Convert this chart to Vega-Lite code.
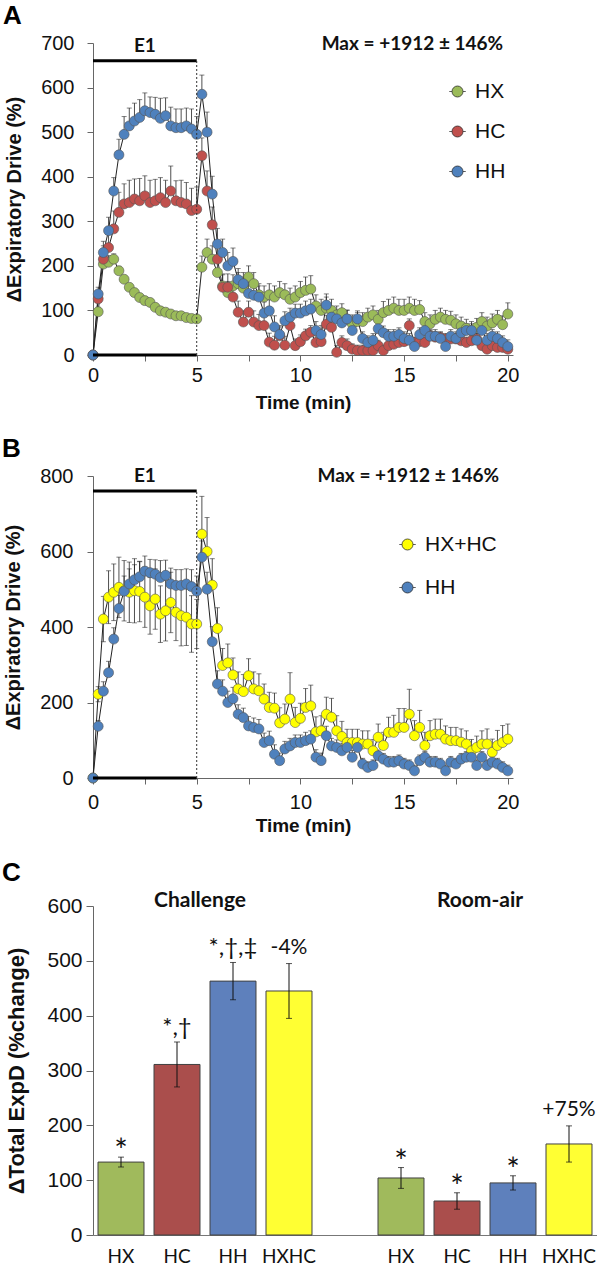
{
"$schema": "https://vega.github.io/schema/vega-lite/v6.json",
"background": "white",
"padding": {"left": 2, "top": 3, "right": 0, "bottom": 0},
"config": {
  "view": {"stroke": null},
  "axis": {"domainColor": "#666", "tickColor": "#666", "labelFont": "Liberation Sans", "labelFontSize": 20, "labelColor": "#111", "titleFont": "Liberation Sans", "titleFontWeight": "bold", "titleFontSize": 19, "titleColor": "#111", "grid": false},
  "legend": {"labelFont": "Liberation Sans", "labelFontSize": 21, "labelColor": "#111"}
},
"datasets": {
"ts": [
{"s":"HX","t":0,"v":0,"e":0},{"s":"HX","t":0.25,"v":97,"e":10},{"s":"HX","t":0.5,"v":204,"e":15},{"s":"HX","t":0.75,"v":208,"e":15},{"s":"HX","t":1,"v":215,"e":12},{"s":"HX","t":1.25,"v":189,"e":10},{"s":"HX","t":1.5,"v":170,"e":8},{"s":"HX","t":1.75,"v":152,"e":8},{"s":"HX","t":2,"v":140,"e":8},{"s":"HX","t":2.25,"v":129,"e":8},{"s":"HX","t":2.5,"v":122,"e":8},{"s":"HX","t":2.75,"v":118,"e":8},{"s":"HX","t":3,"v":107,"e":6},{"s":"HX","t":3.25,"v":99,"e":6},{"s":"HX","t":3.5,"v":96,"e":6},{"s":"HX","t":3.75,"v":92,"e":6},{"s":"HX","t":4,"v":88,"e":6},{"s":"HX","t":4.25,"v":88,"e":6},{"s":"HX","t":4.5,"v":84,"e":6},{"s":"HX","t":4.75,"v":82,"e":6},{"s":"HX","t":5,"v":81,"e":6},
{"s":"HX","t":5.25,"v":197,"e":25},{"s":"HX","t":5.5,"v":230,"e":30},{"s":"HX","t":5.75,"v":215,"e":30},{"s":"HX","t":6,"v":185,"e":30},{"s":"HX","t":6.25,"v":155,"e":25},{"s":"HX","t":6.5,"v":140,"e":25},{"s":"HX","t":6.75,"v":155,"e":25},{"s":"HX","t":7,"v":160,"e":25},{"s":"HX","t":7.25,"v":150,"e":25},{"s":"HX","t":7.5,"v":175,"e":25},{"s":"HX","t":7.75,"v":160,"e":25},{"s":"HX","t":8,"v":135,"e":25},{"s":"HX","t":8.25,"v":130,"e":25},{"s":"HX","t":8.5,"v":135,"e":25},{"s":"HX","t":8.75,"v":130,"e":25},{"s":"HX","t":9,"v":140,"e":25},{"s":"HX","t":9.25,"v":135,"e":25},{"s":"HX","t":9.5,"v":125,"e":25},{"s":"HX","t":9.75,"v":130,"e":25},{"s":"HX","t":10,"v":140,"e":25},
{"s":"HX","t":10.25,"v":145,"e":30},{"s":"HX","t":10.5,"v":148,"e":30},{"s":"HX","t":10.75,"v":110,"e":25},{"s":"HX","t":11,"v":100,"e":25},{"s":"HX","t":11.25,"v":105,"e":25},{"s":"HX","t":11.5,"v":100,"e":25},{"s":"HX","t":11.75,"v":90,"e":20},{"s":"HX","t":12,"v":95,"e":20},{"s":"HX","t":12.25,"v":80,"e":20},{"s":"HX","t":12.5,"v":70,"e":20},{"s":"HX","t":12.75,"v":75,"e":20},{"s":"HX","t":13,"v":75,"e":20},{"s":"HX","t":13.25,"v":85,"e":20},{"s":"HX","t":13.5,"v":90,"e":20},{"s":"HX","t":13.75,"v":80,"e":20},{"s":"HX","t":14,"v":95,"e":25},{"s":"HX","t":14.25,"v":100,"e":25},{"s":"HX","t":14.5,"v":105,"e":25},{"s":"HX","t":14.75,"v":100,"e":25},{"s":"HX","t":15,"v":100,"e":25},
{"s":"HX","t":15.25,"v":105,"e":25},{"s":"HX","t":15.5,"v":100,"e":25},{"s":"HX","t":15.75,"v":102,"e":20},{"s":"HX","t":16,"v":75,"e":20},{"s":"HX","t":16.25,"v":70,"e":20},{"s":"HX","t":16.5,"v":80,"e":20},{"s":"HX","t":16.75,"v":85,"e":20},{"s":"HX","t":17,"v":80,"e":20},{"s":"HX","t":17.25,"v":78,"e":20},{"s":"HX","t":17.5,"v":70,"e":20},{"s":"HX","t":17.75,"v":65,"e":20},{"s":"HX","t":18,"v":60,"e":20},{"s":"HX","t":18.25,"v":55,"e":20},{"s":"HX","t":18.5,"v":62,"e":20},{"s":"HX","t":18.75,"v":75,"e":20},{"s":"HX","t":19,"v":65,"e":20},{"s":"HX","t":19.25,"v":72,"e":20},{"s":"HX","t":19.5,"v":80,"e":20},{"s":"HX","t":19.75,"v":68,"e":20},{"s":"HX","t":20,"v":92,"e":25},
{"s":"HC","t":0,"v":0,"e":0},{"s":"HC","t":0.25,"v":126,"e":15},{"s":"HC","t":0.5,"v":215,"e":30},{"s":"HC","t":0.75,"v":241,"e":35},{"s":"HC","t":1,"v":283,"e":40},{"s":"HC","t":1.25,"v":320,"e":45},{"s":"HC","t":1.5,"v":339,"e":45},{"s":"HC","t":1.75,"v":342,"e":50},{"s":"HC","t":2,"v":350,"e":45},{"s":"HC","t":2.25,"v":346,"e":50},{"s":"HC","t":2.5,"v":357,"e":45},{"s":"HC","t":2.75,"v":342,"e":50},{"s":"HC","t":3,"v":346,"e":48},{"s":"HC","t":3.25,"v":353,"e":45},{"s":"HC","t":3.5,"v":342,"e":50},{"s":"HC","t":3.75,"v":368,"e":56},{"s":"HC","t":4,"v":346,"e":45},{"s":"HC","t":4.25,"v":342,"e":50},{"s":"HC","t":4.5,"v":339,"e":48},{"s":"HC","t":4.75,"v":324,"e":50},{"s":"HC","t":5,"v":327,"e":50},
{"s":"HC","t":5.25,"v":447,"e":40},{"s":"HC","t":5.5,"v":368,"e":45},{"s":"HC","t":5.75,"v":292,"e":40},{"s":"HC","t":6,"v":215,"e":30},{"s":"HC","t":6.25,"v":152,"e":30},{"s":"HC","t":6.5,"v":152,"e":30},{"s":"HC","t":6.75,"v":130,"e":25},{"s":"HC","t":7,"v":96,"e":25},{"s":"HC","t":7.25,"v":74,"e":25},{"s":"HC","t":7.5,"v":96,"e":25},{"s":"HC","t":7.75,"v":74,"e":25},{"s":"HC","t":8,"v":66,"e":25},{"s":"HC","t":8.25,"v":66,"e":20},{"s":"HC","t":8.5,"v":29,"e":20},{"s":"HC","t":8.75,"v":22,"e":20},{"s":"HC","t":9,"v":43,"e":20},{"s":"HC","t":9.25,"v":22,"e":20},{"s":"HC","t":9.5,"v":66,"e":20},{"s":"HC","t":9.75,"v":21,"e":15},{"s":"HC","t":10,"v":30,"e":15},
{"s":"HC","t":10.25,"v":43,"e":15},{"s":"HC","t":10.5,"v":51,"e":15},{"s":"HC","t":10.75,"v":28,"e":15},{"s":"HC","t":11,"v":30,"e":15},{"s":"HC","t":11.25,"v":69,"e":20},{"s":"HC","t":11.5,"v":62,"e":20},{"s":"HC","t":11.75,"v":6,"e":15},{"s":"HC","t":12,"v":28,"e":15},{"s":"HC","t":12.25,"v":21,"e":15},{"s":"HC","t":12.5,"v":13,"e":12},{"s":"HC","t":12.75,"v":10,"e":12},{"s":"HC","t":13,"v":10,"e":12},{"s":"HC","t":13.25,"v":10,"e":12},{"s":"HC","t":13.5,"v":10,"e":12},{"s":"HC","t":13.75,"v":21,"e":12},{"s":"HC","t":14,"v":10,"e":12},{"s":"HC","t":14.25,"v":21,"e":12},{"s":"HC","t":14.5,"v":24,"e":12},{"s":"HC","t":14.75,"v":28,"e":12},{"s":"HC","t":15,"v":30,"e":12},
{"s":"HC","t":15.25,"v":66,"e":15},{"s":"HC","t":15.5,"v":28,"e":12},{"s":"HC","t":15.75,"v":30,"e":12},{"s":"HC","t":16,"v":28,"e":12},{"s":"HC","t":16.25,"v":43,"e":12},{"s":"HC","t":16.5,"v":40,"e":12},{"s":"HC","t":16.75,"v":39,"e":12},{"s":"HC","t":17,"v":36,"e":12},{"s":"HC","t":17.25,"v":36,"e":12},{"s":"HC","t":17.5,"v":36,"e":12},{"s":"HC","t":17.75,"v":32,"e":12},{"s":"HC","t":18,"v":28,"e":12},{"s":"HC","t":18.25,"v":32,"e":12},{"s":"HC","t":18.5,"v":36,"e":12},{"s":"HC","t":18.75,"v":21,"e":12},{"s":"HC","t":19,"v":13,"e":12},{"s":"HC","t":19.25,"v":21,"e":12},{"s":"HC","t":19.5,"v":17,"e":12},{"s":"HC","t":19.75,"v":17,"e":12},{"s":"HC","t":20,"v":13,"e":12},
{"s":"HX+HC","t":0,"v":0,"e":0},{"s":"HX+HC","t":0.25,"v":222,"e":20,"d":20},{"s":"HX+HC","t":0.5,"v":421,"e":60,"d":60},{"s":"HX+HC","t":0.75,"v":479,"e":70,"d":70},{"s":"HX+HC","t":1,"v":492,"e":75,"d":75},{"s":"HX+HC","t":1.25,"v":505,"e":80,"d":80},{"s":"HX+HC","t":1.5,"v":496,"e":80,"d":80},{"s":"HX+HC","t":1.75,"v":492,"e":80,"d":80},{"s":"HX+HC","t":2,"v":496,"e":85,"d":85},{"s":"HX+HC","t":2.25,"v":494,"e":80,"d":80},{"s":"HX+HC","t":2.5,"v":479,"e":80,"d":80},{"s":"HX+HC","t":2.75,"v":456,"e":75,"d":75},{"s":"HX+HC","t":3,"v":474,"e":80,"d":80},{"s":"HX+HC","t":3.25,"v":434,"e":75,"d":75},{"s":"HX+HC","t":3.5,"v":443,"e":80,"d":80},{"s":"HX+HC","t":3.75,"v":465,"e":80,"d":80},{"s":"HX+HC","t":4,"v":439,"e":75,"d":75},{"s":"HX+HC","t":4.25,"v":430,"e":80,"d":80},{"s":"HX+HC","t":4.5,"v":426,"e":75,"d":75},{"s":"HX+HC","t":4.75,"v":408,"e":75,"d":75},{"s":"HX+HC","t":5,"v":408,"e":65,"d":65},
{"s":"HX+HC","t":5.25,"v":646,"e":100},{"s":"HX+HC","t":5.5,"v":600,"e":90},{"s":"HX+HC","t":5.75,"v":511,"e":70},{"s":"HX+HC","t":6,"v":396,"e":55},{"s":"HX+HC","t":6.25,"v":298,"e":45},{"s":"HX+HC","t":6.5,"v":305,"e":50},{"s":"HX+HC","t":6.75,"v":273,"e":45},{"s":"HX+HC","t":7,"v":236,"e":45},{"s":"HX+HC","t":7.25,"v":229,"e":45},{"s":"HX+HC","t":7.5,"v":271,"e":45},{"s":"HX+HC","t":7.75,"v":236,"e":45},{"s":"HX+HC","t":8,"v":231,"e":45},{"s":"HX+HC","t":8.25,"v":209,"e":40},{"s":"HX+HC","t":8.5,"v":187,"e":40},{"s":"HX+HC","t":8.75,"v":185,"e":40},{"s":"HX+HC","t":9,"v":146,"e":40},{"s":"HX+HC","t":9.25,"v":156,"e":40},{"s":"HX+HC","t":9.5,"v":209,"e":70},{"s":"HX+HC","t":9.75,"v":147,"e":40},{"s":"HX+HC","t":10,"v":158,"e":40},
{"s":"HX+HC","t":10.25,"v":187,"e":50},{"s":"HX+HC","t":10.5,"v":191,"e":55},{"s":"HX+HC","t":10.75,"v":122,"e":40},{"s":"HX+HC","t":11,"v":125,"e":40},{"s":"HX+HC","t":11.25,"v":169,"e":45},{"s":"HX+HC","t":11.5,"v":161,"e":50},{"s":"HX+HC","t":11.75,"v":125,"e":40},{"s":"HX+HC","t":12,"v":110,"e":40},{"s":"HX+HC","t":12.25,"v":94,"e":35},{"s":"HX+HC","t":12.5,"v":94,"e":35},{"s":"HX+HC","t":12.75,"v":94,"e":35},{"s":"HX+HC","t":13,"v":90,"e":35},{"s":"HX+HC","t":13.25,"v":90,"e":35},{"s":"HX+HC","t":13.5,"v":72,"e":30},{"s":"HX+HC","t":13.75,"v":108,"e":35},{"s":"HX+HC","t":14,"v":86,"e":35},{"s":"HX+HC","t":14.25,"v":121,"e":40},{"s":"HX+HC","t":14.5,"v":121,"e":45},{"s":"HX+HC","t":14.75,"v":134,"e":50},{"s":"HX+HC","t":15,"v":134,"e":50},
{"s":"HX+HC","t":15.25,"v":169,"e":66},{"s":"HX+HC","t":15.5,"v":112,"e":40},{"s":"HX+HC","t":15.75,"v":134,"e":45},{"s":"HX+HC","t":16,"v":86,"e":35},{"s":"HX+HC","t":16.25,"v":112,"e":40},{"s":"HX+HC","t":16.5,"v":116,"e":40},{"s":"HX+HC","t":16.75,"v":116,"e":40},{"s":"HX+HC","t":17,"v":103,"e":35},{"s":"HX+HC","t":17.25,"v":99,"e":35},{"s":"HX+HC","t":17.5,"v":99,"e":35},{"s":"HX+HC","t":17.75,"v":95,"e":35},{"s":"HX+HC","t":18,"v":90,"e":35},{"s":"HX+HC","t":18.25,"v":72,"e":30},{"s":"HX+HC","t":18.5,"v":81,"e":30},{"s":"HX+HC","t":18.75,"v":90,"e":35},{"s":"HX+HC","t":19,"v":90,"e":40},{"s":"HX+HC","t":19.25,"v":68,"e":35},{"s":"HX+HC","t":19.5,"v":86,"e":40},{"s":"HX+HC","t":19.75,"v":94,"e":45},{"s":"HX+HC","t":20,"v":103,"e":40},
{"s":"HH","t":0,"v":0,"e":0},{"s":"HH","t":0.25,"v":137,"e":15},{"s":"HH","t":0.5,"v":230,"e":25},{"s":"HH","t":0.75,"v":279,"e":30},{"s":"HH","t":1,"v":368,"e":30},{"s":"HH","t":1.25,"v":449,"e":35},{"s":"HH","t":1.5,"v":495,"e":40},{"s":"HH","t":1.75,"v":514,"e":40},{"s":"HH","t":2,"v":525,"e":40},{"s":"HH","t":2.25,"v":533,"e":40},{"s":"HH","t":2.5,"v":548,"e":40},{"s":"HH","t":2.75,"v":544,"e":35},{"s":"HH","t":3,"v":540,"e":38},{"s":"HH","t":3.25,"v":531,"e":45},{"s":"HH","t":3.5,"v":537,"e":40},{"s":"HH","t":3.75,"v":514,"e":42},{"s":"HH","t":4,"v":510,"e":42},{"s":"HH","t":4.25,"v":510,"e":42},{"s":"HH","t":4.5,"v":514,"e":40},{"s":"HH","t":4.75,"v":507,"e":45},{"s":"HH","t":5,"v":495,"e":40},
{"s":"HH","t":5.25,"v":585,"e":43},{"s":"HH","t":5.5,"v":500,"e":45},{"s":"HH","t":5.75,"v":361,"e":40},{"s":"HH","t":6,"v":249,"e":35},{"s":"HH","t":6.25,"v":230,"e":30},{"s":"HH","t":6.5,"v":200,"e":30},{"s":"HH","t":6.75,"v":210,"e":30},{"s":"HH","t":7,"v":169,"e":25},{"s":"HH","t":7.25,"v":160,"e":25},{"s":"HH","t":7.5,"v":138,"e":25},{"s":"HH","t":7.75,"v":134,"e":25},{"s":"HH","t":8,"v":130,"e":25},{"s":"HH","t":8.25,"v":94,"e":25},{"s":"HH","t":8.5,"v":99,"e":25},{"s":"HH","t":8.75,"v":63,"e":25},{"s":"HH","t":9,"v":46,"e":20},{"s":"HH","t":9.25,"v":77,"e":20},{"s":"HH","t":9.5,"v":85,"e":20},{"s":"HH","t":9.75,"v":94,"e":20},{"s":"HH","t":10,"v":94,"e":20},
{"s":"HH","t":10.25,"v":99,"e":22},{"s":"HH","t":10.5,"v":103,"e":22},{"s":"HH","t":10.75,"v":55,"e":20},{"s":"HH","t":11,"v":46,"e":20},{"s":"HH","t":11.25,"v":112,"e":25},{"s":"HH","t":11.5,"v":85,"e":20},{"s":"HH","t":11.75,"v":81,"e":20},{"s":"HH","t":12,"v":72,"e":20},{"s":"HH","t":12.25,"v":81,"e":20},{"s":"HH","t":12.5,"v":55,"e":18},{"s":"HH","t":12.75,"v":81,"e":18},{"s":"HH","t":13,"v":37,"e":15},{"s":"HH","t":13.25,"v":28,"e":15},{"s":"HH","t":13.5,"v":33,"e":15},{"s":"HH","t":13.75,"v":59,"e":15},{"s":"HH","t":14,"v":50,"e":15},{"s":"HH","t":14.25,"v":42,"e":15},{"s":"HH","t":14.5,"v":42,"e":15},{"s":"HH","t":14.75,"v":46,"e":15},{"s":"HH","t":15,"v":37,"e":15},
{"s":"HH","t":15.25,"v":33,"e":15},{"s":"HH","t":15.5,"v":19,"e":15},{"s":"HH","t":15.75,"v":46,"e":15},{"s":"HH","t":16,"v":55,"e":15},{"s":"HH","t":16.25,"v":42,"e":15},{"s":"HH","t":16.5,"v":42,"e":15},{"s":"HH","t":16.75,"v":37,"e":15},{"s":"HH","t":17,"v":19,"e":15},{"s":"HH","t":17.25,"v":42,"e":15},{"s":"HH","t":17.5,"v":37,"e":15},{"s":"HH","t":17.75,"v":50,"e":15},{"s":"HH","t":18,"v":55,"e":15},{"s":"HH","t":18.25,"v":55,"e":15},{"s":"HH","t":18.5,"v":33,"e":15},{"s":"HH","t":18.75,"v":55,"e":15},{"s":"HH","t":19,"v":33,"e":15},{"s":"HH","t":19.25,"v":42,"e":15},{"s":"HH","t":19.5,"v":37,"e":15},{"s":"HH","t":19.75,"v":28,"e":15},{"s":"HH","t":20,"v":19,"e":15}
]
},
"spacing": 121,
"bounds": "flush",
"resolve": {"scale": {"x": "independent", "y": "independent", "color": "independent"}, "legend": {"color": "independent"}},
"vconcat": [
{
  "width": 420, "height": 312,
  "title": {"text": "A", "anchor": "start", "frame": "group", "font": "Liberation Sans", "fontSize": 26, "fontWeight": "bold", "color": "#000", "dx": -90, "offset": 4},
  "layer": [
    {
      "data": {"name": "ts"},
      "transform": [{"filter": "indexof(['HX','HC','HH'], datum.s) >= 0"}, {"calculate": "datum.v + datum.e", "as": "hi"}],
      "layer": [
        {"mark": {"type": "rule", "color": "#222", "strokeWidth": 0.8},
         "encoding": {
           "x": {"field": "t", "type": "quantitative", "scale": {"domain": [0, 20.25], "nice": false, "zero": false},
                 "axis": {"title": "Time (min)", "values": [0,1.25,2.5,3.75,5,6.25,7.5,8.75,10,11.25,12.5,13.75,15,16.25,17.5,18.75,20], "labelExpr": "datum.value % 5 === 0 ? format(datum.value, 'd') : ''", "labelOverlap": false, "labelFlush": false, "tickSize": 6, "labelPadding": 4, "titlePadding": 8}},
           "y": {"field": "v", "type": "quantitative", "scale": {"domain": [0, 700], "nice": false},
                 "axis": {"title": "ΔExpiratory Drive (%)", "titleFontSize": 20, "values": [0,100,200,300,400,500,600,700], "tickSize": 6, "labelPadding": 13, "titlePadding": 16}},
           "y2": {"field": "hi"}}},
        {"mark": {"type": "point", "shape": "M-1,0L1,0", "size": 25, "filled": false, "color": "#222", "strokeWidth": 0.8},
         "encoding": {"x": {"field": "t", "type": "quantitative"}, "y": {"field": "hi", "type": "quantitative"}}},
        {"mark": {"type": "line", "color": "#222", "strokeWidth": 1},
         "encoding": {"x": {"field": "t", "type": "quantitative"}, "y": {"field": "v", "type": "quantitative"}, "detail": {"field": "s"}, "order": {"field": "t"}}},
        {"mark": {"type": "point", "filled": true, "size": 100, "stroke": "#555", "strokeWidth": 0.6, "opacity": 1},
         "encoding": {"x": {"field": "t", "type": "quantitative"}, "y": {"field": "v", "type": "quantitative"},
           "color": {"field": "s", "type": "nominal", "scale": {"domain": ["HX", "HC", "HH"], "range": ["#9BBB59", "#C0504D", "#4F81BD"]},
             "legend": {"title": null, "orient": "none", "legendX": 354, "legendY": 38, "symbolType": "M-1,0A1,1 0 1,1 1,0A1,1 0 1,1 -1,0Z M-1.5,0L-1,0M1,0L1.5,0", "symbolSize": 121, "symbolStrokeColor": "#333", "symbolStrokeWidth": 0.8, "symbolOpacity": 1, "rowPadding": 18, "labelOffset": 7}}}}
      ]
    },
    {
      "data": {"values": [{"x": 0, "x2": 5, "y": 660}, {"x": 0, "x2": 5, "y": 0}]},
      "mark": {"type": "rule", "color": "#000", "strokeWidth": 3},
      "encoding": {"x": {"field": "x", "type": "quantitative"}, "x2": {"field": "x2"}, "y": {"field": "y", "type": "quantitative"}}
    },
    {
      "data": {"values": [{"x": 5, "y": 0, "y2": 660}]},
      "mark": {"type": "rule", "color": "#333", "strokeWidth": 1, "strokeDash": [2, 2]},
      "encoding": {"x": {"field": "x", "type": "quantitative"}, "y": {"field": "y", "type": "quantitative"}, "y2": {"field": "y2"}}
    },
    {
      "data": {"values": [{"x": 2.5, "y": 693, "txt": "E1"}, {"x": 15.4, "y": 697, "txt": "Max = +1912 ± 146%"}]},
      "mark": {"type": "text", "font": "Lato", "fontSize": 19, "fontWeight": "bold", "color": "#111", "baseline": "middle"},
      "encoding": {"x": {"field": "x", "type": "quantitative"}, "y": {"field": "y", "type": "quantitative"}, "text": {"field": "txt"}}
    }
  ]
},
{
  "spacing": 128,
  "bounds": "flush",
  "resolve": {"scale": {"x": "independent", "y": "independent", "color": "independent"}, "legend": {"color": "independent"}},
  "vconcat": [
  {
    "width": 420, "height": 302,
    "title": {"text": "B", "anchor": "start", "frame": "group", "font": "Liberation Sans", "fontSize": 26, "fontWeight": "bold", "color": "#000", "dx": -91, "offset": 4},
    "layer": [
      {
        "data": {"name": "ts"},
        "transform": [{"filter": "indexof(['HX+HC','HH'], datum.s) >= 0"}, {"calculate": "datum.v + datum.e", "as": "hi"}, {"calculate": "datum.v - (datum.d || 0)", "as": "lo"}],
        "layer": [
          {"mark": {"type": "rule", "color": "#222", "strokeWidth": 0.8},
           "encoding": {
             "x": {"field": "t", "type": "quantitative", "scale": {"domain": [0, 20.25], "nice": false, "zero": false},
                   "axis": {"title": "Time (min)", "values": [0,1.25,2.5,3.75,5,6.25,7.5,8.75,10,11.25,12.5,13.75,15,16.25,17.5,18.75,20], "labelExpr": "datum.value % 5 === 0 ? format(datum.value, 'd') : ''", "labelOverlap": false, "labelFlush": false, "tickSize": 6, "labelPadding": 8, "titlePadding": 4}},
             "y": {"field": "lo", "type": "quantitative", "scale": {"domain": [0, 800], "nice": false},
                   "axis": {"title": "ΔExpiratory Drive (%)", "titleFontSize": 20, "values": [0,200,400,600,800], "tickSize": 6, "labelPadding": 14, "titlePadding": 16}},
             "y2": {"field": "hi"}}},
          {"mark": {"type": "point", "shape": "M-1,0L1,0", "size": 25, "filled": false, "color": "#222", "strokeWidth": 0.8},
           "encoding": {"x": {"field": "t", "type": "quantitative"}, "y": {"field": "hi", "type": "quantitative"}}},
          {"transform": [{"filter": "datum.d > 0"}],
           "mark": {"type": "point", "shape": "M-1,0L1,0", "size": 25, "filled": false, "color": "#222", "strokeWidth": 0.8},
           "encoding": {"x": {"field": "t", "type": "quantitative"}, "y": {"field": "lo", "type": "quantitative"}}},
          {"mark": {"type": "line", "color": "#222", "strokeWidth": 1},
           "encoding": {"x": {"field": "t", "type": "quantitative"}, "y": {"field": "v", "type": "quantitative"}, "detail": {"field": "s"}, "order": {"field": "t"}}},
          {"mark": {"type": "point", "filled": true, "size": 100, "stroke": "#555", "strokeWidth": 0.6, "opacity": 1},
           "encoding": {"x": {"field": "t", "type": "quantitative"}, "y": {"field": "v", "type": "quantitative"},
             "color": {"field": "s", "type": "nominal", "scale": {"domain": ["HX+HC", "HH"], "range": ["#FFFF00", "#4F81BD"]},
               "legend": {"title": null, "orient": "none", "legendX": 304, "legendY": 58, "symbolType": "M-1,0A1,1 0 1,1 1,0A1,1 0 1,1 -1,0Z M-1.5,0L-1,0M1,0L1.5,0", "symbolSize": 121, "symbolStrokeColor": "#333", "symbolStrokeWidth": 0.8, "symbolOpacity": 1, "rowPadding": 21, "labelOffset": 7}}}}
        ]
      },
      {
        "data": {"values": [{"x": 0, "x2": 5, "y": 760}, {"x": 0, "x2": 5, "y": 0}]},
        "mark": {"type": "rule", "color": "#000", "strokeWidth": 3},
        "encoding": {"x": {"field": "x", "type": "quantitative"}, "x2": {"field": "x2"}, "y": {"field": "y", "type": "quantitative"}}
      },
      {
        "data": {"values": [{"x": 5, "y": 0, "y2": 760}]},
        "mark": {"type": "rule", "color": "#333", "strokeWidth": 1, "strokeDash": [2, 2]},
        "encoding": {"x": {"field": "x", "type": "quantitative"}, "y": {"field": "y", "type": "quantitative"}, "y2": {"field": "y2"}}
      },
      {
        "data": {"values": [{"x": 2.5, "y": 800, "txt": "E1"}, {"x": 15.2, "y": 800, "txt": "Max = +1912 ± 146%"}]},
        "mark": {"type": "text", "font": "Lato", "fontSize": 19, "fontWeight": "bold", "color": "#111", "baseline": "middle"},
        "encoding": {"x": {"field": "x", "type": "quantitative"}, "y": {"field": "y", "type": "quantitative"}, "text": {"field": "txt"}}
      }
    ]
  },
  {
    "width": 504, "height": 329,
    "title": {"text": "C", "anchor": "start", "frame": "group", "font": "Liberation Sans", "fontSize": 26, "fontWeight": "bold", "color": "#000", "dx": -91, "offset": 4},
    "layer": [
      {
        "data": {"values": [
          {"cat": "C-HX", "g": "HX", "v": 133, "e": 9, "note": "*"},
          {"cat": "C-HC", "g": "HC", "v": 311, "e": 41, "note": "*,†"},
          {"cat": "C-HH", "g": "HH", "v": 463, "e": 34, "note": "*,†,‡"},
          {"cat": "C-HXHC", "g": "HXHC", "v": 445, "e": 50, "note": "-4%"},
          {"cat": "R-HX", "g": "HX", "v": 104, "e": 19, "note": "*"},
          {"cat": "R-HC", "g": "HC", "v": 62, "e": 15, "note": "*"},
          {"cat": "R-HH", "g": "HH", "v": 95, "e": 13, "note": "*"},
          {"cat": "R-HXHC", "g": "HXHC", "v": 166, "e": 33, "note": "+75%"}
        ]},
        "transform": [{"calculate": "datum.v + datum.e", "as": "hi"}, {"calculate": "datum.v - datum.e", "as": "lo"}],
        "layer": [
          {"mark": {"type": "bar", "stroke": "#404040", "strokeWidth": 1},
           "encoding": {
             "x": {"field": "cat", "type": "nominal", "sort": null,
                   "scale": {"domain": ["C-HX", "C-HC", "C-HH", "C-HXHC", "gap", "R-HX", "R-HC", "R-HH", "R-HXHC"], "paddingInner": 0.179, "paddingOuter": 0.0895},
                   "axis": {"title": null, "labelExpr": "indexof(datum.value, '-') >= 0 ? substring(datum.value, 2) : ''", "labelAngle": 0, "labelFont": "Lato", "labelFontSize": 19, "ticks": false, "tickSize": 0, "labelPadding": 12, "domainColor": "#777"}},
             "y": {"field": "v", "type": "quantitative", "scale": {"domain": [0, 600], "nice": false},
                   "axis": {"title": "ΔTotal ExpD (%change)", "titleFontSize": 22, "labelFontSize": 21, "values": [0,100,200,300,400,500,600], "tickSize": 7, "labelPadding": 4, "titlePadding": 18}},
             "color": {"field": "g", "type": "nominal", "scale": {"domain": ["HX", "HC", "HH", "HXHC"], "range": ["#A0BA5C", "#AA4E4C", "#5E80BC", "#FFFF33"]}, "legend": null}}},
          {"mark": {"type": "rule", "color": "#111", "strokeWidth": 1},
           "encoding": {"x": {"field": "cat", "type": "nominal"}, "y": {"field": "lo", "type": "quantitative"}, "y2": {"field": "hi"}}},
          {"mark": {"type": "point", "shape": "M-1,0L1,0", "size": 36, "filled": false, "color": "#111", "strokeWidth": 1},
           "encoding": {"x": {"field": "cat", "type": "nominal"}, "y": {"field": "hi", "type": "quantitative"}}},
          {"mark": {"type": "point", "shape": "M-1,0L1,0", "size": 36, "filled": false, "color": "#111", "strokeWidth": 1},
           "encoding": {"x": {"field": "cat", "type": "nominal"}, "y": {"field": "lo", "type": "quantitative"}}},
          {"transform": [{"filter": "datum.note === '*'"}],
           "mark": {"type": "text", "font": "Lato", "fontSize": 32, "color": "#111", "baseline": "alphabetic", "dy": 5},
           "encoding": {"x": {"field": "cat", "type": "nominal"}, "y": {"field": "hi", "type": "quantitative"}, "text": {"field": "note"}}},
          {"transform": [{"filter": "datum.note !== '*' && indexof(datum.note, '*') >= 0"}],
           "mark": {"type": "text", "font": "Lato", "fontSize": 24, "color": "#111", "baseline": "alphabetic", "dy": -7},
           "encoding": {"x": {"field": "cat", "type": "nominal"}, "y": {"field": "hi", "type": "quantitative"}, "text": {"field": "note"}}},
          {"transform": [{"filter": "indexof(datum.note, '*') < 0"}],
           "mark": {"type": "text", "font": "Lato", "fontSize": 21, "color": "#111", "baseline": "alphabetic", "dy": -10},
           "encoding": {"x": {"field": "cat", "type": "nominal"}, "y": {"field": "hi", "type": "quantitative"}, "text": {"field": "note"}}}
        ]
      },
      {
        "data": {"values": [{"cat": "C-HC", "v": 599, "txt": "Challenge"}, {"cat": "R-HC", "v": 599, "txt": "Room-air"}]},
        "mark": {"type": "text", "font": "Lato", "fontSize": 21, "fontWeight": "bold", "color": "#111", "baseline": "alphabetic"},
        "encoding": {"x": {"field": "cat", "type": "nominal", "bandPosition": 1}, "y": {"field": "v", "type": "quantitative"}, "text": {"field": "txt"}}
      }
    ]
  }
  ]
}
]
}
